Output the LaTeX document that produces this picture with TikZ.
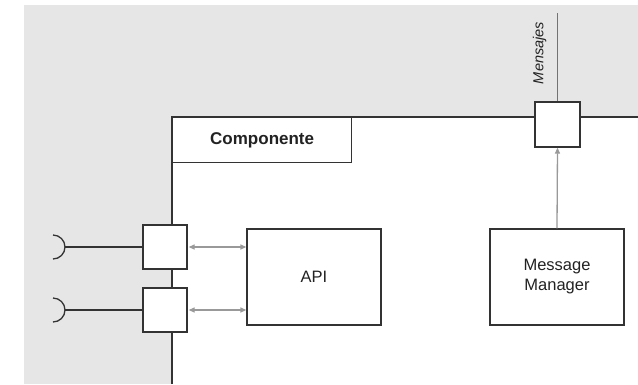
\documentclass[tikz,border=0pt]{standalone}
\usepackage{fontspec}
\setmainfont{Liberation Sans}
\usetikzlibrary{arrows.meta}
\definecolor{bggray}{HTML}{E6E6E6}
\definecolor{lineC}{HTML}{333333}
\definecolor{arrowC}{HTML}{999999}
\definecolor{textC}{HTML}{222222}
\tikzset{
  box/.style={draw=lineC, line width=1.3pt, fill=white, inner sep=0pt, text=textC},
  portbox/.style={box, minimum width=44pt, minimum height=44pt},
  compbox/.style={box, minimum width=134pt, minimum height=96pt, align=center, font=\fontsize{16.5}{20}\selectfont},
  wire/.style={draw=lineC, line width=1.3pt},
  garrow/.style={draw=arrowC, line width=1.3pt, {Triangle[length=6pt,width=5pt]}-{Triangle[length=6pt,width=5pt]}},
  garrowone/.style={draw=arrowC, line width=1.3pt, -{Triangle[length=6pt,width=5pt]}},
}
\begin{document}
\begin{tikzpicture}[x=1pt,y=-1pt]
\useasboundingbox (0,0) rectangle (638,384);
\fill[bggray] (24,5) rectangle (638,384);
\fill[white] (172,117) rectangle (638,384);
\coordinate (cbl) at (172,384);
\coordinate (ctl) at (172,117);
\coordinate (ctr) at (638,117);
\draw[wire] (cbl) -- (ctl) -- (ctr);
% label
\node[box, minimum width=179pt, minimum height=45pt, anchor=north west,
      font=\bfseries\fontsize{17}{20}\selectfont] (comp) at (172,117) {Componente};
% ports
\node[portbox] (p1) at (165,247) {};
\node[portbox] (p2) at (165,310) {};
\node[portbox, minimum width=45pt, minimum height=45pt] (ptop) at (557.5,124.5) {};
% boxes
\node[compbox] (api) at (314,277) {API};
\node[compbox] (mm) at (557,277) {Message\\Manager};
% sockets
\coordinate (s1) at (65,247);
\coordinate (s2) at (65,310);
\draw[wire] (53,235) .. controls (59.6,235) and (65,240.4) .. (s1) .. controls (65,253.6) and (59.6,259) .. (53,259);
\draw[wire] (53,298) .. controls (59.6,298) and (65,303.4) .. (s2) .. controls (65,316.6) and (59.6,322) .. (53,322);
\draw[wire] (s1) -- (p1.west);
\draw[wire] (s2) -- (p2.west);
% arrows
\draw[garrow] (p1.east) ++(1,0) coordinate (a1s) (a1s) -- (api.west |- p1.east);
\draw[garrow] (p2.east) ++(1,0) coordinate (a2s) (a2s) -- (api.west |- p2.east);
\draw[garrowone] (mm.north) -- (ptop.south);
% top line
\coordinate (mtop) at (557.5,13);
\draw[draw=black!55, line width=1pt] (mtop) -- (ptop.north);
\node[rotate=90, text=textC, font=\itshape\fontsize{14.5}{17}\selectfont] (msg) at (539.5,53) {Mensajes};
\end{tikzpicture}
\end{document}
